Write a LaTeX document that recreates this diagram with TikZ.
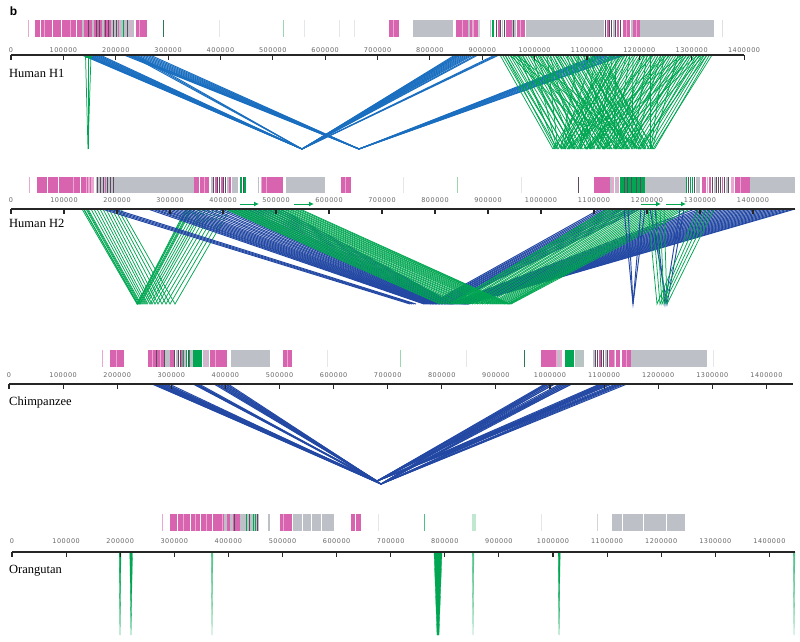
\documentclass[tikz,border=0pt]{standalone}
\usepackage{fontspec}
\usetikzlibrary{arrows.meta}
\setmainfont{Liberation Serif}
\newfontfamily\tickfont[LetterSpace=8]{DejaVu Sans}
\newfontfamily\bfont{Liberation Sans}
\definecolor{pk}{HTML}{D863AE}
\definecolor{lpk}{HTML}{E9A8D2}
\definecolor{gy}{HTML}{BDC1C7}
\definecolor{gn}{HTML}{00A651}
\definecolor{lgn}{HTML}{9AD6B0}
\definecolor{dk}{HTML}{5E4A5E}
\definecolor{bl}{HTML}{1A6EC0}
\definecolor{db}{HTML}{2348A3}
\definecolor{tk}{HTML}{666666}
\newcommand\barstrip[3]{\foreach \a/\b/\c in {#3} \fill[\c] (\a,#1) rectangle (\b,#2);}
\newcommand\axisrow[6]{%
  \draw[axl] (#1,#3) -- (#4,#3);
  \foreach \k in {0,...,14} {
    \draw[axl] (#1+\k*#2,#3) -- (#1+\k*#2,#3+4.5);
    \node[tkl] (#6-\k) at (#1+\k*#2,#5) {\ifnum\k=0 0\else\k00000\fi};
  }}
\begin{document}
\begin{tikzpicture}[x=1pt,y=-1pt,
  axl/.style={draw=black!85,line width=1.1pt},
  tkl/.style={font=\tickfont\fontsize{6.5}{7}\selectfont,text=tk,inner sep=0pt},
  spl/.style={font=\fontsize{12.5}{14}\selectfont,anchor=west,inner sep=0pt},
  bA/.style={draw=bl,line width=0.95pt},
  bB/.style={draw=db,line width=0.95pt},
  gg/.style={draw=gn,line width=0.75pt},
  gtri/.style={fill=gn,draw=gn,line width=0.3pt},
  ltri/.style={fill=gn!65,draw=gn!65,line width=0.3pt}]
\useasboundingbox (0,0) rectangle (800,641);
\node[font=\bfont\bfseries\fontsize{12}{14}\selectfont,inner sep=0pt] (lblb) at (13.5,11) {b};

% ================= Bars =================
\barstrip{20}{37}{28/28.8/lpk, 35/147/pk, 40/40.7/white, 44/44.6/lpk, 52/52.6/white, 61/61.6/white, 70/70.6/lpk, 76/77/white,
 82/84/gy, 88/89/dk, 92/94/gy, 96/97/dk, 99/100/dk, 102/104/gy, 105/106/dk, 108/109/dk, 111/134/gy, 113/114/dk, 116/117/dk, 118/119/pk,
 122.5/124/gn, 127/128/dk, 130/131/lpk, 134/136/white, 136/147/pk, 139/140/lpk,
 162.5/163.5/gn!50!dk, 219/219.6/gy!40, 283/283.8/lgn, 304/304.6/gy!40, 339/339.6/gy!40, 354/354.6/gy!40,
 389/399/pk, 393/394/lpk, 413/453/gy, 456/478/pk, 462/463/lpk, 468/470/gy, 472/474/lpk, 478/480/gy!70,
 490/491/gy, 491.5/492.5/gn, 493/494/gn, 496/497/dk, 498/500/pk, 500/501/dk, 502/503/gy, 504/505/dk, 506/512/pk, 512/516/gy, 513/514/dk, 517/525/pk, 520/521/lpk,
 526/602/gy, 602/604/gy, 605/606/dk, 607/609/pk, 609/610/dk, 611/612/dk, 613/615/gy, 615/616/dk, 617/619/pk, 620/621/dk, 623/630/pk, 626/627/lpk, 631/633/gy, 633/640/pk, 636/637/lpk,
 640/714/gy, 722/722.6/gy!50}

\barstrip{177}{193}{29/30/lpk, 37/94/pk, 47/47.7/white, 58/58.6/white, 73/73.6/lpk, 80/80.6/white, 86/87/lpk, 88/94/lpk, 90/91/pk,
 96/115/gy, 97/98/dk, 100/101/dk, 103/104/dk, 105/106/pk, 107/108/dk, 110/111/dk, 113/114/dk,
 115/194/gy, 194/209/pk, 199/199.7/white, 204/204.7/lpk,
 211/213/gy, 213/214/dk, 215/217/pk, 217/218/dk, 219/220/dk, 221/223/pk, 223/224/dk, 225/226/dk, 227/229/gy, 229/231/pk, 232/238/gy, 240/242/gn, 242.5/243.5/dk, 244/246/gn,
 258/259/gy, 261/262/lpk, 262/283/pk, 266/267/lpk, 286/325/gy, 341/351/pk, 345/346/lpk,
 403/403.6/gy!40, 457/458/lgn, 521/521.6/gy!40, 578/578.8/dk,
 594/610/pk, 610/612/gy, 612/614/lpk, 615/617/gy, 617/619/lpk,
 620/645/gn, 624/625/dk, 627/628/dk, 631/632/dk, 636/637/dk, 640/641/dk,
 645/684/gy, 684/686/gy, 686/687/gn, 688/689/dk, 690/691/gn, 692/693/gn, 694/695/dk, 696/700/gy,
 702/706/pk, 707/708/lpk, 709/711/pk, 712/713/dk, 714/716/gy, 716/717/dk, 718/719/dk, 720/721/dk, 722/723/pk, 724/725/dk, 726/728/gy, 728/729/dk, 731/734/lpk, 735/750/pk, 740/741/lpk,
 750/795/gy}

\barstrip{350}{367}{102/103/lpk, 110/124/pk, 116/117/lpk,
 148/152/pk, 152/153/lpk, 153/156/pk, 156/157/dk, 157/160/pk, 160/161/lpk, 161/164/pk, 164/165/dk, 165/168/gy,
 168/170/gy, 170/174/pk, 174/175/dk, 176/178/gy, 178/179/dk, 180/181/dk, 181/183/pk, 183/184/gn, 184/186/gy, 186/187/gn, 188/189/dk, 189/190/gn, 190/193/gy,
 193/202/gn, 203/205/gy, 205/207/lpk, 207/209/gy, 210/227/pk, 215/216/lpk,
 231/270/gy, 283/292/pk, 287/288/lpk,
 327/327.6/gy!40, 400/401/lgn, 466/466.6/gy!40, 524/525/gn!50!dk,
 541/556/pk, 556/558/lpk, 558/560/gy, 560/562/lpk, 565/574/gn,
 575/577/lgn!50!gy, 577/579/gy, 579/581/lgn!50!gy, 581/584/gy,
 593/595/gy, 595/596/dk, 597/598/dk, 599/601/pk, 601/602/dk, 603/604/dk, 605/607/gy, 607/608/dk, 609/614/pk, 614/615/lpk, 616/620/pk, 621/622/white, 622/631/pk, 626/627/lpk,
 631/707/gy, 713/713.6/gy!40}

\barstrip{514}{531}{162/163/lpk, 170/240/pk, 177/178/white, 183/184/lpk, 190/190.7/white, 195/196/lpk, 200/201/white, 206/207/lpk, 212/213/white, 222/223/lpk, 224/227/gy, 228/229/pk, 230/233/gy, 234/235/dk, 236/238/pk,
 240/259/gy, 246/247/gn, 249/250/dk, 253/254/gn, 255/256/gn, 257/258/dk,
 268/270/gy, 280/292/pk, 283/284/lpk,
 293/334/gy, 302/302.6/white, 311/311.6/white, 321/321.6/white,
 351/361/pk, 355/356/white,
 378/378.6/gy!40, 424/425/gn!70, 472/476/lgn!60, 541/541.6/gy!40, 597/597.6/gy!70,
 612/685/gy, 622/622.7/white, 643/643.7/white, 666/666.6/white}

% ================= Panel 1: Human H1 =================
\coordinate (v1a) at (302,149);
\coordinate (v1b) at (359,149);
\foreach \t in {82,83.5,85,86.5,88,90,92,94,96,98,100,130,133,136} \draw[bA] (\t,55) -- (v1a);
\foreach \t in {455,456.5,458,459.5,461,463,465,467,469,471,473,476,478,495,497,499} \draw[bA] (v1a) -- (\t,55);
\foreach \t in {124,126,128,130,132,135,138,141,144,147,150} \draw[bA] (\t,55) -- (v1b);
\foreach \t in {598,601,604,607,610,614,618,622,625} \draw[bA] (v1b) -- (\t,55);
\draw[gg] (85.5,55) -- (88,149) -- (91,55);
\draw[gg] (88,55) -- (88,149);
\fill[gn] (86,54) rectangle (92,58);
\foreach \i in {0,...,40} {
  \pgfmathsetmacro\tt{500+\i*2.5}
  \pgfmathsetmacro\bb{min(655,\tt+55+mod(\i*7,5)-2)}
  \draw[gg] (\tt,55) -- (\bb,149);
}
\foreach \i in {0,...,40} {
  \pgfmathsetmacro\tt{610+\i*2.55}
  \pgfmathsetmacro\bb{max(553,\tt-57+mod(\i*11,5)-2)}
  \draw[gg] (\tt,55) -- (\bb,149);
}
\foreach \i in {0,...,54} {
  \pgfmathsetmacro\tt{505+mod(\i*37,205)}
  \pgfmathsetmacro\bb{555+mod(\i*53,100)}
  \draw[gg] (\tt,55) -- (\bb,149);
}

% ================= Panel 2: Human H2 =================
\foreach \t/\b/\u in {82/137/186, 83.5/137.5/187, 84/138/188, 86/139/190, 87/140/191, 88/141/192, 91/143/195, 94/145/198, 97/147/201, 100/150/203,
   103/152/206, 106/155/210, 109/158/214, 112/162/218, 115/166/222, 118/170/226, 121/175/230}
  \draw[gg] (\t,209) -- (\b,304) -- (\u,209);
\foreach \t/\b in {102/410, 106/412, 110/414, 114/416, 148/424, 152/425, 155/426, 159/427, 162/428, 166/429, 170/430, 174/431, 178/432, 182/433, 186/434, 190/435, 195/436, 200/437, 204/438, 209/439, 213/440, 218/441, 222/442,
   227/443, 232/444, 237/445, 242/446, 247/447, 252/448, 257/449, 262/450, 267/451, 272/452, 276/453, 280/454}
  \draw[bB] (\t,209) -- (\b,304);
\foreach \b/\u in {430/600, 432/603, 433/606, 435/609, 436/612, 438/615, 439/618, 441/621, 442/624, 444/628, 445/632, 447/636, 448/640,
   449/695, 450/700, 451/704, 452/708, 453/712, 454/716, 455/720, 456/724, 457/728, 458/732, 459/736, 460/740, 461/744,
   462/748, 462.5/752, 463/756, 463.5/760, 464/764, 464.5/768, 465/772, 465.5/776, 466/780, 466.5/784, 467/788, 467.5/792, 468/795}
  \draw[bB] (\b,304) -- (\u,209);
\foreach \t/\b in {225/440, 227/442, 229/445, 231/447, 233/450, 235/452, 237/455, 239/457, 241/460, 243/462, 245/465, 248/468, 250/470, 253/473, 255/475, 258/478, 260/480, 263/483, 265/485, 268/488, 270/490, 273/492, 275/494,
   278/496, 280/498, 283/500, 285/502, 288/504, 290/505, 293/507, 295/508, 298/509, 300/510}
  \draw[gg] (\t,209) -- (\b,304);
\foreach \b/\u in {450/607, 452/609, 455/612, 457/614, 460/617, 462/619, 465/622, 467/624, 470/627, 472/629, 475/632, 477/634, 480/637, 482/640, 485/643, 487/646, 490/649, 492/652, 494/655, 496/658, 498/661, 500/664, 502/667,
   504/670, 505/673, 507/676, 508/679, 509/682, 510/685, 511/690}
  \draw[gg] (\b,304) -- (\u,209);
\draw[bB] (624,209) -- (633,304) -- (645,209);
\draw[bB] (628,209) -- (633,304) -- (641,209);
\draw[bB] (650,209) -- (667,304) -- (684,209);
\draw[bB] (655,209) -- (665,304) -- (680,209);
\foreach \t/\b/\u in {648/657/698, 652/660/702, 656/662/706, 660/664/710, 664/667/714}
  \draw[gg] (\t,209) -- (\b,304) -- (\u,209);
\draw[gn,line width=1pt,-{Latex[length=5pt,width=5pt]}] (240,204) -- (259,204);
\draw[gn,line width=1pt,-{Latex[length=5pt,width=5pt]}] (294,204) -- (314,204);
\draw[gn,line width=1pt,-{Latex[length=5pt,width=5pt]}] (641,204) -- (661,204);
\draw[gn,line width=1pt,-{Latex[length=5pt,width=5pt]}] (666,204) -- (686,204);

% ================= Panel 3: Chimpanzee =================
\coordinate (v3a) at (377,481);
\coordinate (v3b) at (381,484);
\foreach \t in {152,154,156,158,160,163,166, 193,195,197, 214,217,220,223,226} \draw[bB] (\t,384) -- (v3a);
\foreach \t in {153,155,157,159,162,165,169, 194,196,199, 216,219,222,225,228} \draw[bB] (\t,384) -- (v3b);
\foreach \t in {545,547,549,552,555, 560,563,566,569,572, 600,603,606,609,612, 616,619,622} \draw[bB] (v3a) -- (\t,384);
\foreach \t in {546,548,551,554, 562,565,568,571, 601,604,607,610, 618,621,624,627} \draw[bB] (v3b) -- (\t,384);

% ================= Panel 4: Orangutan =================
\fill[gtri] (119.2,552) -- (121,552) -- (120,635) -- cycle;
\fill[gtri] (129.8,552) -- (132.5,552) -- (131,635) -- cycle;
\fill[ltri] (211.2,552) -- (213,552) -- (212,635) -- cycle;
\fill[gtri] (434,552) -- (442,552) -- (439,635) -- (437,635) -- cycle;
\fill[ltri] (472.2,552) -- (474,552) -- (473,635) -- cycle;
\fill[gtri] (558.2,552) -- (560.2,552) -- (559,635) -- cycle;
\fill[ltri] (793.2,552) -- (795,552) -- (794,635) -- cycle;

% ================= Axes =================
\axisrow{11}{52.36}{55}{744}{50}{ta}
\axisrow{11}{53.0}{209}{795}{200.5}{tb}
\axisrow{9}{54.1}{384}{793}{375}{tc}
\axisrow{12}{54.1}{552}{795}{541.5}{td}

\node[spl] (h1) at (9,73) {Human H1};
\node[spl] (h2) at (9,223) {Human H2};
\node[spl] (ch) at (9,402) {Chimpanzee};
\node[spl] (or) at (9,571) {Orangutan};
\end{tikzpicture}
\end{document}
